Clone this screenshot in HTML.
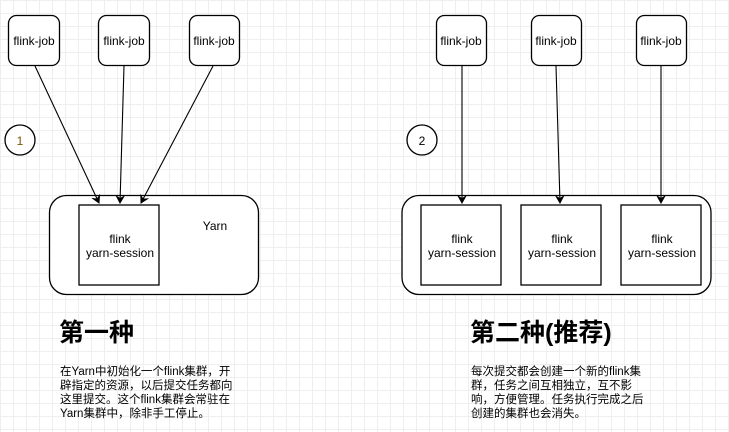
<!DOCTYPE html>
<html><head><meta charset="utf-8"><style>
body{margin:0;width:729px;height:432px;overflow:hidden;background:#fff;
background-image:linear-gradient(#efefef 1px,transparent 1px),linear-gradient(90deg,#efefef 1px,transparent 1px);background-size:13px 13px;}
svg{position:absolute;left:0;top:0}
text{font-family:"Liberation Sans",sans-serif;font-size:12px;fill:#000}
.t{position:absolute;font-family:"Liberation Sans","Noto Sans CJK SC",sans-serif;white-space:nowrap}
.h{font-size:25px;font-weight:bold;line-height:30px}
.p{font-size:11.5px;line-height:14px}
</style></head><body>
<svg width="729" height="432">
<defs><marker id="a" markerWidth="10" markerHeight="10" refX="8" refY="5" orient="auto" markerUnits="userSpaceOnUse"><path d="M0,0 L9,5 L0,10 L3,5z" fill="#000"/></marker></defs>
<g fill="#fff" stroke="#000" stroke-width="1.3">
<rect x="8.5" y="15.5" width="51" height="50" rx="8"/>
<rect x="98.5" y="15.5" width="51" height="50" rx="8"/>
<rect x="189.5" y="15.5" width="50" height="50" rx="8"/>
<circle cx="20" cy="140" r="15"/>
<rect x="49.5" y="195.5" width="209" height="99" rx="17"/>
<rect x="79" y="205" width="80" height="80"/>
<rect x="436.5" y="15.5" width="50" height="50" rx="8"/>
<rect x="531.5" y="15.5" width="50" height="50" rx="8"/>
<rect x="636.5" y="15.5" width="50" height="50" rx="8"/>
<circle cx="422" cy="140" r="15"/>
<rect x="402" y="195.5" width="309" height="99" rx="17"/>
<rect x="421" y="205" width="80" height="80"/>
<rect x="521" y="205" width="80" height="80"/>
<rect x="621" y="205" width="80" height="80"/>
</g>
<g stroke="#000" stroke-width="1.1" marker-end="url(#a)">
<line x1="35" y1="66" x2="99" y2="203"/>
<line x1="124" y1="66" x2="120" y2="203"/>
<line x1="213" y1="66" x2="141" y2="203"/>
<line x1="462" y1="66" x2="462" y2="203"/>
<line x1="556" y1="66" x2="560" y2="203"/>
<line x1="661" y1="66" x2="661" y2="203"/>
</g>
<g text-anchor="middle">
<text x="34" y="45">flink-job</text><text x="124" y="45">flink-job</text><text x="214" y="45">flink-job</text>
<text x="461" y="45">flink-job</text><text x="556" y="45">flink-job</text><text x="661" y="45">flink-job</text>
<text x="20" y="145" style="fill:#7a5500">1</text><text x="422" y="145">2</text>
<text x="215" y="230">Yarn</text>
<text x="120" y="243">flink</text><text x="120" y="257">yarn-session</text>
<text x="462" y="243">flink</text><text x="462" y="257">yarn-session</text>
<text x="562" y="243">flink</text><text x="562" y="257">yarn-session</text>
<text x="662" y="243">flink</text><text x="662" y="257">yarn-session</text>
</g>
</svg>
<div class="t h" style="left:59px;top:318px">第一种</div>
<div class="t h" style="left:470px;top:318px">第二种(推荐)</div>
<div class="t p" style="left:60px;top:365px">在Yarn中初始化一个flink集群，开<br>辟指定的资源，以后提交任务都向<br>这里提交。这个flink集群会常驻在<br>Yarn集群中，除非手工停止。</div>
<div class="t p" style="left:471px;top:365px">每次提交都会创建一个新的flink集<br>群，任务之间互相独立，互不影<br>响，方便管理。任务执行完成之后<br>创建的集群也会消失。</div>
</body></html>
